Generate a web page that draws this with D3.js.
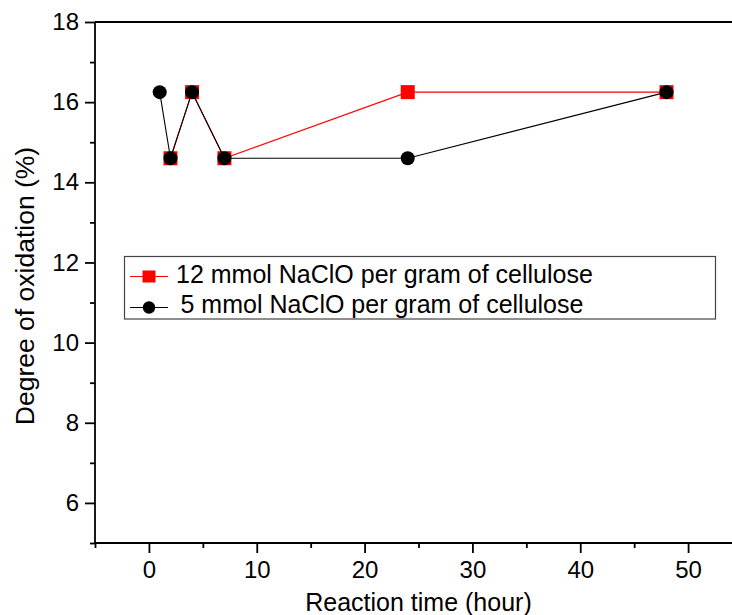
<!DOCTYPE html>
<html>
<head>
<meta charset="utf-8">
<script src="https://cdn.jsdelivr.net/npm/d3@7"></script>
<style>
  html, body { margin: 0; padding: 0; background: #fff; }
  svg { display: block; font-family: "Liberation Sans", Arial, sans-serif; }
</style>
</head>
<body>
<svg id="chart" width="732" height="615"></svg>
<script>
// Reaction time (hour) for each sample
const hours12 = [2, 4, 7, 24, 48];
const hours5 = [1, 2, 4, 7, 24, 48];
// Degree of oxidation (%)
const oxidation12 = [14.6, 16.25, 14.6, 16.25, 16.25];
const oxidation5 = [16.25, 14.6, 16.25, 14.6, 14.6, 16.25];

const seriesNames = ["12 mmol NaClO per gram of cellulose", "5 mmol NaClO per gram of cellulose"];
const xTicks = [0, 10, 20, 30, 40, 50];
const xMinorTicks = [-5, 5, 15, 25, 35, 45, 55];
const yTicks = [6, 8, 10, 12, 14, 16, 18];
const yMinorTicks = [5, 7, 9, 11, 13, 15, 17];

const svg = d3.select("#chart");
const x = d3.scaleLinear().domain([-5, 55]).range([95, 742]);
const y = d3.scaleLinear().domain([5, 18]).range([543, 22]);

const axisW = 1.8;
const tickFont = 24;

// frame: top line spans the width
svg.append("line").attr("x1", x(-5)).attr("x2", x(55)).attr("y1", y(18)).attr("y2", y(18))
  .attr("stroke", "#000").attr("stroke-width", axisW);

// left axis
const yAxis = svg.append("g").attr("transform", `translate(${x(-5)},0)`)
  .call(d3.axisLeft(y).tickValues(yTicks).tickFormat(d3.format("d")).tickSize(10).tickPadding(6));
svg.append("g").attr("transform", `translate(${x(-5)},0)`)
  .call(d3.axisLeft(y).tickValues(yMinorTicks).tickFormat("").tickSize(5))
  .call(g => g.select(".domain").remove());

// bottom axis
const xAxis = svg.append("g").attr("transform", `translate(0,${y(5)})`)
  .call(d3.axisBottom(x).tickValues(xTicks).tickFormat(d3.format("d")).tickSize(10).tickPadding(8));
svg.append("g").attr("transform", `translate(0,${y(5)})`)
  .call(d3.axisBottom(x).tickValues(xMinorTicks).tickFormat("").tickSize(5))
  .call(g => g.select(".domain").remove());

svg.selectAll(".domain").attr("stroke-width", axisW);
svg.selectAll(".tick line").attr("stroke-width", axisW);
svg.selectAll(".tick text").attr("font-size", tickFont).attr("font-family", "Liberation Sans, Arial, sans-serif").attr("fill", "#000");

// axes meet cleanly without outer end caps
yAxis.select(".domain").attr("d", `M0,${y(18)}V${y(5)}`);
xAxis.select(".domain").attr("d", `M${x(-5)},0H${x(55)}`);

// axis titles
svg.append("text").attr("x", 418.5).attr("y", 611).attr("text-anchor", "middle")
  .attr("font-size", 25).text("Reaction time (hour)");
svg.append("text").attr("transform", `translate(34,286) rotate(-90)`).attr("text-anchor", "middle")
  .attr("font-size", 26.5).text("Degree of oxidation (%)");

const line = d3.line().x(d => x(d[0])).y(d => y(d[1]));
const pts12 = hours12.map((h, i) => [h, oxidation12[i]]);
const pts5 = hours5.map((h, i) => [h, oxidation5[i]]);

// 12 mmol series
svg.append("path").datum(pts12).attr("d", line).attr("fill", "none").attr("stroke", "#ff0000").attr("stroke-width", 1.1);
svg.selectAll(".sq").data(pts12).join("rect").attr("class", "sq")
  .attr("x", d => x(d[0]) - 7).attr("y", d => y(d[1]) - 7).attr("width", 14).attr("height", 14).attr("fill", "#ff0000");

// 5 mmol series
svg.append("path").datum(pts5).attr("d", line).attr("fill", "none").attr("stroke", "#000").attr("stroke-width", 1.1);
svg.selectAll(".dot").data(pts5).join("circle").attr("class", "dot")
  .attr("cx", d => x(d[0])).attr("cy", d => y(d[1])).attr("r", 7).attr("fill", "#000");

// legend
const lg = svg.append("g");
lg.append("rect").attr("x", 124.5).attr("y", 256.5).attr("width", 591).attr("height", 62.5)
  .attr("fill", "#fff").attr("stroke", "#444").attr("stroke-width", 1.2);
lg.append("line").attr("x1", 130).attr("x2", 168).attr("y1", 276.5).attr("y2", 276.5).attr("stroke", "#ff0000").attr("stroke-width", 1.1);
lg.append("rect").attr("x", 149 - 6.5).attr("y", 276.5 - 6).attr("width", 13).attr("height", 12).attr("fill", "#ff0000");
lg.append("text").attr("x", 176).attr("y", 282.5).attr("font-size", 25).text(seriesNames[0]);
lg.append("line").attr("x1", 130).attr("x2", 168).attr("y1", 307.5).attr("y2", 307.5).attr("stroke", "#000").attr("stroke-width", 1.1);
lg.append("circle").attr("cx", 149).attr("cy", 307.5).attr("r", 6.2).attr("fill", "#000");
lg.append("text").attr("x", 180.5).attr("y", 312.5).attr("font-size", 25).text(seriesNames[1]);
</script>
</body>
</html>
